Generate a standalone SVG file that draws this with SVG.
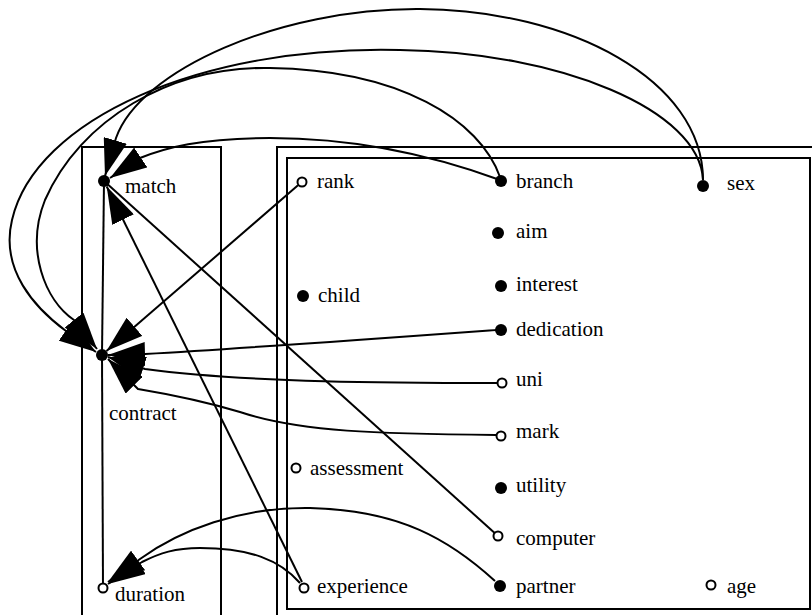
<svg xmlns="http://www.w3.org/2000/svg" width="812" height="615" viewBox="0 0 812 615">
  <style>
    .frame { fill: none; stroke: #000; stroke-width: 2; }
    .edge { fill: none; stroke: #000; stroke-width: 2; }
    .arrow { marker-end: url(#head); }
    .full { fill: #000; }
    .hollow { fill: #fff; stroke: #000; stroke-width: 2; }
    text { font-family: "Liberation Serif", "Times New Roman", serif; font-size: 21px; fill: #000; }
  </style>
  <defs>
    <marker id="head" markerUnits="userSpaceOnUse" viewBox="0 0 37 24" refX="37" refY="12" markerWidth="37" markerHeight="24" orient="auto">
      <path d="M0,0 L37,12 L0,24 z" fill="#000"/>
    </marker>
  </defs>

  <!-- clusters -->
  <g id="clusters">
    <rect class="frame" x="82" y="147" width="139" height="480"/>
    <rect class="frame" x="277" y="147" width="550" height="480"/>
    <rect class="frame" x="287" y="158" width="523" height="451"/>
  </g>

  <!-- connectors -->
  <g id="edges">
    <path class="edge arrow" d="M703,180 C703,80 570,10 420,9 C280,8 140,70 116,138 L105,176"/>
    <path class="edge arrow" d="M703,180 C700,110 560,52 400,50 C200,45 35,120 12,220 C0,270 35,308 66,331 L96,352"/>
    <path class="edge arrow" d="M500,177 C480,120 400,70 270,68 C170,66 80,120 45,200 C25,250 45,300 74,320 L97,349"/>
    <path class="edge arrow" d="M500,180 C440,158 360,138 270,138 C200,138 165,148 140,158 L110,178"/>
    <path class="edge arrow" d="M302,582 L106.7,186.5"/>
    <path class="edge" d="M104,181 L498,536"/>
    <path class="edge" d="M104,181 L102,355"/>
    <path class="edge" d="M102,355 L103,588"/>
    <path class="edge arrow" d="M298,185.3 L106.5,351"/>
    <path class="edge arrow" d="M496,330 C400,337 250,348 145,354 L108,355"/>
    <path class="edge arrow" d="M497,383 C400,383 250,383 145,369 L108,357"/>
    <path class="edge arrow" d="M496,435 C380,434 300,432 240,412 C200,400 162,393 138,389 L108,359"/>
    <path class="edge arrow" d="M495,581 C450,540 400,510 310,508 C240,507 180,530 140,559 L108,582"/>
    <path class="edge arrow" d="M300,583 C280,560 250,548 200,548 C175,548 160,553 142,562 L108,584"/>
  </g>

  <!-- nodes -->
  <g id="match"><circle class="full" cx="104" cy="181" r="6"/><text x="125" y="193">match</text></g>
  <g id="contract"><circle class="full" cx="102" cy="355" r="6"/><text x="109" y="420">contract</text></g>
  <g id="duration"><circle class="hollow" cx="103" cy="588" r="4.5"/><text x="115" y="601">duration</text></g>
  <g id="rank"><circle class="hollow" cx="302" cy="182" r="4.5"/><text x="317" y="188">rank</text></g>
  <g id="branch"><circle class="full" cx="501" cy="181" r="6"/><text x="516" y="188">branch</text></g>
  <g id="sex"><circle class="full" cx="703" cy="186" r="6"/><text x="727" y="190">sex</text></g>
  <g id="aim"><circle class="full" cx="498" cy="233" r="6"/><text x="516" y="238">aim</text></g>
  <g id="child"><circle class="full" cx="303" cy="296" r="6"/><text x="318" y="302">child</text></g>
  <g id="interest"><circle class="full" cx="501" cy="286" r="6"/><text x="516" y="291">interest</text></g>
  <g id="dedication"><circle class="full" cx="501" cy="330" r="6"/><text x="516" y="336">dedication</text></g>
  <g id="uni"><circle class="hollow" cx="502" cy="383" r="4.5"/><text x="516" y="386">uni</text></g>
  <g id="mark"><circle class="hollow" cx="501" cy="436" r="4.5"/><text x="516" y="438">mark</text></g>
  <g id="assessment"><circle class="hollow" cx="296" cy="468" r="4.5"/><text x="310" y="475">assessment</text></g>
  <g id="utility"><circle class="full" cx="501" cy="488" r="6"/><text x="516" y="492">utility</text></g>
  <g id="computer"><circle class="hollow" cx="498" cy="536" r="4.5"/><text x="516" y="545">computer</text></g>
  <g id="experience"><circle class="hollow" cx="304" cy="588" r="4.5"/><text x="317" y="593">experience</text></g>
  <g id="partner"><circle class="full" cx="500" cy="586" r="6"/><text x="516" y="593">partner</text></g>
  <g id="age"><circle class="hollow" cx="711" cy="585" r="4.5"/><text x="727" y="593">age</text></g>
</svg>
